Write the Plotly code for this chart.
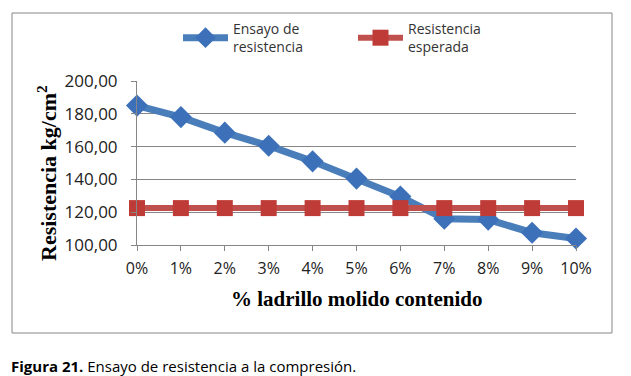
import plotly.graph_objects as go

# ---- data ----
categories = ["0%", "1%", "2%", "3%", "4%", "5%", "6%", "7%", "8%", "9%", "10%"]
ensayo = [185.0, 178.0, 168.5, 160.5, 151.0, 140.5, 129.5, 116.0, 115.5, 107.5, 104.0]
esperada = [122.5] * len(categories)
y_ticks = [100, 120, 140, 160, 180, 200]
y_tick_labels = ["100,00", "120,00", "140,00", "160,00", "180,00", "200,00"]
series_names = ["Ensayo de<br>resistencia", "Resistencia<br>esperada"]

# ---- layout geometry (pixels, page coordinates; page body has 8px margin) ----
OFF = 8
W, H = 631 - OFF, 376 - OFF
L, R, T, B = 137 - OFF, 576 - OFF, 81 - OFF, 245 - OFF  # plot area


def px(x):
    return (x - OFF - L) / (R - L)


def py(y):
    return (B - (y - OFF)) / (B - T)


fig = go.Figure()
fig.add_trace(go.Scatter(
    x=categories, y=ensayo, name=series_names[0], mode="lines+markers",
    line=dict(color="#4A7EBB", width=7),
    marker=dict(symbol="diamond", size=17, color="#3C70B8"),
    cliponaxis=False,
))
fig.add_trace(go.Scatter(
    x=categories, y=esperada, name=series_names[1], mode="lines+markers",
    line=dict(color="#C0504D", width=6),
    marker=dict(symbol="square", size=16, color="#BE3B37"),
    cliponaxis=False,
))

grey = "#868686"
fig.update_layout(
    width=W, height=H,
    margin=dict(l=L, r=W - R, t=T, b=H - B, pad=0, autoexpand=False),
    paper_bgcolor="white", plot_bgcolor="white",
    showlegend=True,
    legend=dict(
        orientation="h", x=px(178), y=py(13), xanchor="left", yanchor="top",
        entrywidth=115, entrywidthmode="pixels", itemwidth=45,
        font=dict(family="Open Sans", size=14, color="#333333"),
        bgcolor="rgba(0,0,0,0)", tracegroupgap=0,
    ),
    xaxis=dict(
        type="category", range=[0, len(categories) - 1],
        showline=True, linecolor=grey, linewidth=1,
        ticks="outside", ticklen=5, tickcolor=grey,
        showgrid=False, zeroline=False, ticklabelstandoff=4,
        tickfont=dict(family="Open Sans", size=16, color="#222222"),
        fixedrange=True,
    ),
    yaxis=dict(
        range=[100, 200], tickvals=y_ticks, ticktext=y_tick_labels,
        showline=True, linecolor=grey, linewidth=1,
        ticks="outside", ticklen=5, tickcolor=grey,
        showgrid=True, gridcolor=grey, gridwidth=1, zeroline=False,
        ticklabelstandoff=10,
        tickfont=dict(family="Open Sans", size=17, color="#222222"),
        fixedrange=True,
    ),
    shapes=[dict(
        type="rect", xref="paper", yref="paper",
        x0=px(12), x1=px(612), y0=py(333), y1=py(13),
        line=dict(color=grey, width=1), fillcolor="rgba(0,0,0,0)", layer="below",
    )],
    annotations=[
        dict(text="<b>Resistencia kg/cm<sup>2</sup></b>", textangle=-90,
             xref="paper", yref="paper", x=px(47), y=py(173),
             xanchor="center", yanchor="middle", showarrow=False,
             font=dict(family="Liberation Serif", size=22, color="black")),
        dict(text="<b>% ladrillo molido contenido</b>",
             xref="paper", yref="paper", x=px(356), y=py(299),
             xanchor="center", yanchor="middle", showarrow=False,
             font=dict(family="Liberation Serif", size=21, color="black")),
        dict(text="<b>Figura 21.</b> Ensayo de resistencia a la compresión.",
             xref="paper", yref="paper", x=px(9), y=py(366),
             xanchor="left", yanchor="middle", showarrow=False,
             font=dict(family="Open Sans", size=15, color="black")),
    ],
)

fig.write_html("out.html")
